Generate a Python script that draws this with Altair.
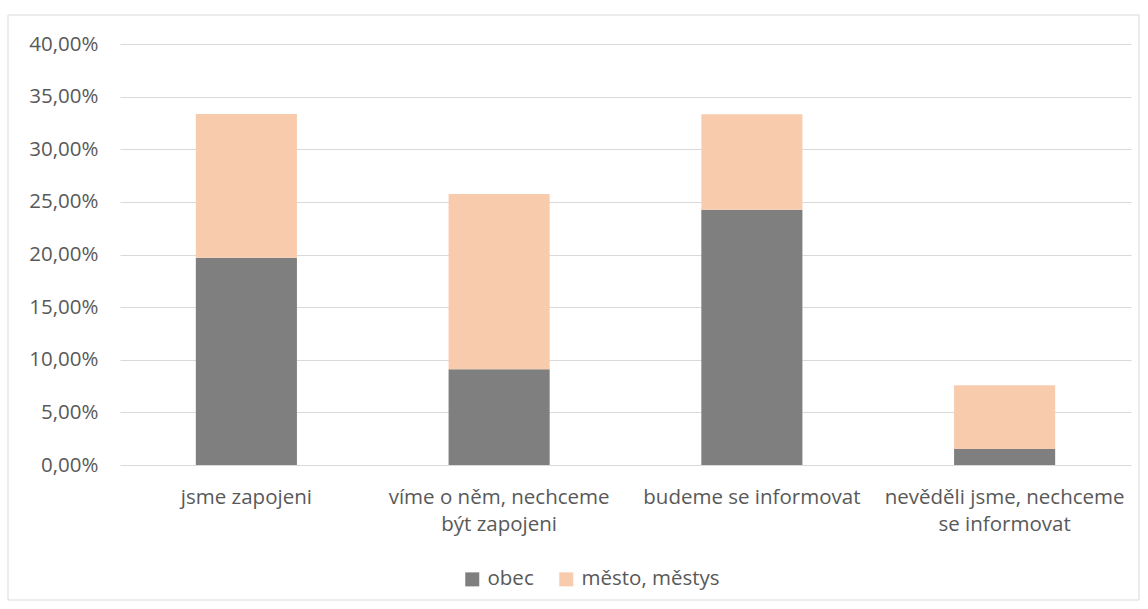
import altair as alt
import pandas as pd

categories = [
    "jsme zapojeni",
    "víme o něm, nechceme být zapojeni",
    "budeme se informovat",
    "nevěděli jsme, nechceme se informovat",
]
label_lines = [
    ["jsme zapojeni"],
    ["víme o něm, nechceme", "být zapojeni"],
    ["budeme se informovat"],
    ["nevěděli jsme, nechceme", "se informovat"],
]
series = ["obec", "město, městys"]
obec = [0.1970, 0.0909, 0.2424, 0.0152]
mesto = [0.1364, 0.1667, 0.0909, 0.0606]
colors = ["#7f7f7f", "#f8cbad"]
y_ticks = [0.0, 0.05, 0.10, 0.15, 0.20, 0.25, 0.30, 0.35, 0.40]

rows = []
for i, c in enumerate(categories):
    rows.append({"kategorie": c, "typ": series[0], "hodnota": obec[i], "poradi": 0})
    rows.append({"kategorie": c, "typ": series[1], "hodnota": mesto[i], "poradi": 1})
df = pd.DataFrame(rows)

# multi-line tick labels
expr = "datum.label"
for c, lines in reversed(list(zip(categories, label_lines))):
    arr = "[" + ",".join("'" + l + "'" for l in lines) + "]"
    expr = f"datum.label == '{c}' ? {arr} : ({expr})"

FONT = "Open Sans"
TXT = "#595959"
FS = 20.5
W, H = 1011, 421

bars = alt.Chart(df).mark_bar().encode(
    x=alt.X(
        "kategorie:N",
        sort=categories,
        scale=alt.Scale(paddingInner=0.6, paddingOuter=0.3),
        axis=alt.Axis(
            title=None,
            labelAngle=0,
            domain=False,
            ticks=False,
            labelFont=FONT,
            labelFontSize=FS,
            labelColor=TXT,
            labelPadding=22,
            labelLineHeight=27,
            labelExpr=expr,
            labelLimit=400,
        ),
    ),
    y=alt.Y(
        "hodnota:Q",
        stack="zero",
        scale=alt.Scale(domain=[0, 0.4], nice=False),
        axis=alt.Axis(
            title=None,
            values=y_ticks,
            domain=False,
            ticks=False,
            gridColor="#d9d9d9",
            gridWidth=1,
            labelFont=FONT,
            labelFontSize=FS,
            labelColor=TXT,
            labelPadding=22,
            labelExpr="replace(format(datum.value, '.2%'), '.', ',')",
        ),
    ),
    color=alt.Color(
        "typ:N",
        sort=series,
        scale=alt.Scale(domain=series, range=colors),
        legend=alt.Legend(
            title=None,
            orient="none",
            legendX=342,
            legendY=525,
            direction="horizontal",
            symbolType="square",
            symbolSize=196,
            symbolStrokeWidth=0,
            labelFont=FONT,
            labelFontSize=FS,
            labelColor=TXT,
            labelOffset=5,
            columnPadding=22,
        ),
    ),
    order=alt.Order("poradi:Q"),
)

frame = alt.Chart(pd.DataFrame({"a": [0]})).mark_rect(
    fill="transparent", stroke="#d9d9d9", strokeWidth=1
).encode(
    x=alt.value(-112),
    x2=alt.value(1019),
    y=alt.value(-29),
    y2=alt.value(556),
)

chart = alt.layer(frame, bars).properties(
    width=W,
    height=H,
    autosize=alt.AutoSizeParams(type="none"),
    padding={"left": 120, "top": 44, "right": 17, "bottom": 144},
    background="white",
).configure_view(strokeWidth=0)

chart.save("out.html", embed_options={"renderer": "svg", "actions": False})
